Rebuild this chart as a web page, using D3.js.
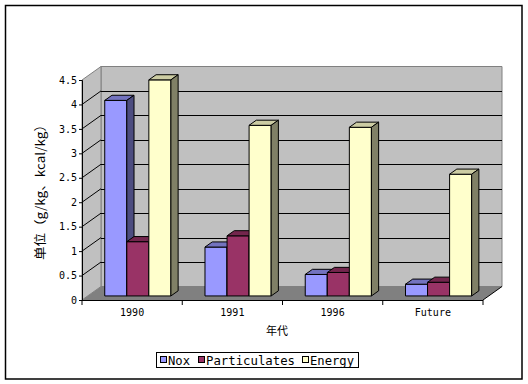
<!DOCTYPE html>
<html><head><meta charset="utf-8">
<script src="https://cdn.jsdelivr.net/npm/d3@7/dist/d3.min.js"></script>
<style>body{margin:0;background:#fff}svg{display:block}</style>
</head><body><svg id="c" width="528" height="384"></svg>
<script>
const categories = ["1990", "1991", "1996", "Future"];
const seriesNames = ["Nox", "Particulates", "Energy"];
const nox = [4.0, 1.0, 0.44, 0.24];
const particulates = [1.11, 1.23, 0.48, 0.28];
const energy = [4.42, 3.49, 3.45, 2.49];
const yTicks = [0, 0.5, 1, 1.5, 2, 2.5, 3, 3.5, 4, 4.5];
const yTickLabels = ["0", "0.5", "1", "1.5", "2", "2.5", "3", "3.5", "4", "4.5"];
const xTitle = "年代";
const yTitle = "单位（g/kg、kcal/kg）";
const frontColors = ["#9999FF", "#993366", "#FFFFCC"];
const topColors = ["#7373BF", "#73264D", "#CCCCA3"];
const sideColors = ["#4D4D80", "#4D1A33", "#808066"];

const seriesValues = [nox, particulates, energy];
const svg = d3.select("#c");
const mono = "'DejaVu Sans Mono', 'Liberation Mono', monospace";
const cjk = "'Noto Sans CJK SC', sans-serif";

// outer border
svg.append("rect").attr("x", 5.5).attr("y", 5.5).attr("width", 516.5).attr("height", 373.5)
  .attr("fill", "#fff").attr("stroke", "#000").attr("stroke-width", 1.5);

const DX = 19, DY = -13.5;
const x = d3.scaleBand().domain(categories).range([82, 483]).padding(0);
const y = d3.scaleLinear().domain([0, 4.5]).range([300, 80]);
const bw = x.bandwidth();
const inner = d3.scaleBand().domain(seriesNames).range([bw * 0.17, bw * 0.83]).padding(0);
const x0 = x.range()[0], x1 = x.range()[1];
const yTop = y(4.5), yBot = y(0);

const pt = (a) => a.map(p => p.join(",")).join(" ");

// back wall
svg.append("polygon").attr("points", pt([[x0 + DX, yTop + DY], [x1 + DX, yTop + DY], [x1 + DX, yBot + DY], [x0 + DX, yBot + DY]]))
  .attr("fill", "#C0C0C0").attr("stroke", "#808080").attr("stroke-width", 1);
// left wall
svg.append("polygon").attr("points", pt([[x0, yTop], [x0 + DX, yTop + DY], [x0 + DX, yBot + DY], [x0, yBot]]))
  .attr("fill", "#C0C0C0").attr("stroke", "#808080").attr("stroke-width", 1);
// floor
svg.append("polygon").attr("points", pt([[x0, yBot], [x1, yBot], [x1 + DX, yBot + DY], [x0 + DX, yBot + DY]]))
  .attr("fill", "#808080").attr("stroke", "none");
svg.append("line").attr("x1", x1).attr("y1", yBot).attr("x2", x1 + DX).attr("y2", yBot + DY)
  .attr("stroke", "#000").attr("stroke-width", 1);

// gridlines
const grid = yTicks.filter(v => v > 0 && v < 4.5);
grid.forEach(v => {
  const yy = Math.round(y(v) + DY) + 0.5;
  svg.append("line").attr("x1", x0 + DX).attr("x2", x1 + DX).attr("y1", yy).attr("y2", yy)
    .attr("stroke", "#000").attr("stroke-width", 1);
  svg.append("line").attr("x1", x0).attr("y1", y(v)).attr("x2", x0 + DX).attr("y2", y(v) + DY)
    .attr("stroke", "#000").attr("stroke-width", 1);
});

// bars
const f0 = 0.3, f1 = 0.68;
const ax = f0 * DX, ay = f0 * DY, bx = (f1 - f0) * DX, by = (f1 - f0) * DY;
categories.forEach((c, ci) => {
  seriesNames.forEach((s, si) => {
    const v = seriesValues[si][ci];
    const L = x(c) + inner(s) + ax, R = L + inner.bandwidth();
    const T = y(v) + ay, B = y(0) + ay;
    const g = svg.append("g").attr("stroke", "#000").attr("stroke-width", 1).attr("stroke-linejoin", "miter");
    g.append("polygon").attr("points", pt([[L, T], [R, T], [R, B], [L, B]])).attr("fill", frontColors[si]);
    g.append("polygon").attr("points", pt([[L, T], [L + bx, T + by], [R + bx, T + by], [R, T]])).attr("fill", topColors[si]);
    g.append("polygon").attr("points", pt([[R, T], [R + bx, T + by], [R + bx, B + by], [R, B]])).attr("fill", sideColors[si]);
  });
});

// y axis
const yAxis = d3.axisLeft(y).tickValues(yTicks).tickSize(3).tickPadding(2)
  .tickFormat((d, i) => yTickLabels[i]);
const ya = svg.append("g").attr("transform", `translate(${x0},0)`).call(yAxis);
ya.select(".domain").attr("stroke", "#000");
ya.selectAll("line").attr("stroke", "#000");
ya.selectAll("text").attr("font-family", mono).attr("font-size", 10).attr("fill", "#000");

// x axis
const xa = svg.append("g").attr("transform", `translate(0,${yBot})`).call(d3.axisBottom(x).tickSize(0).tickPadding(9));
xa.select(".domain").attr("stroke", "#000").attr("d", `M${x0},0.5H${x1}`);
xa.selectAll("text").attr("font-family", mono).attr("font-size", 10).attr("fill", "#000");
categories.concat([null]).forEach((c, i) => {
  const xx = c === null ? x1 : x(c);
  svg.append("line").attr("x1", xx).attr("x2", xx).attr("y1", yBot).attr("y2", yBot + 5).attr("stroke", "#000");
});

// titles
svg.append("text").attr("x", 277).attr("y", 335).attr("text-anchor", "middle")
  .attr("font-family", cjk).attr("font-size", 11).text(xTitle);
svg.append("text").attr("transform", "translate(45,189) rotate(-90)").attr("text-anchor", "middle")
  .attr("font-family", cjk).attr("font-size", 12.5).attr("textLength", 142).attr("lengthAdjust", "spacingAndGlyphs").text(yTitle);

// legend
const lg = svg.append("g");
lg.append("rect").attr("x", 156.5).attr("y", 352.5).attr("width", 202).attr("height", 15)
  .attr("fill", "#fff").attr("stroke", "#000");
const lgX = [160, 198, 302];
const lgW = [22, 89, 44];
seriesNames.forEach((s, i) => {
  lg.append("rect").attr("x", lgX[i] + 0.5).attr("y", 356.5).attr("width", 6).attr("height", 6)
    .attr("fill", frontColors[i]).attr("stroke", "#000");
  lg.append("text").attr("x", lgX[i] + 8).attr("y", 364.5).attr("font-family", mono).attr("font-size", 12.5)
    .attr("textLength", lgW[i]).attr("lengthAdjust", "spacingAndGlyphs")
    .attr("fill", "#000").text(s);
});
</script></body></html>
